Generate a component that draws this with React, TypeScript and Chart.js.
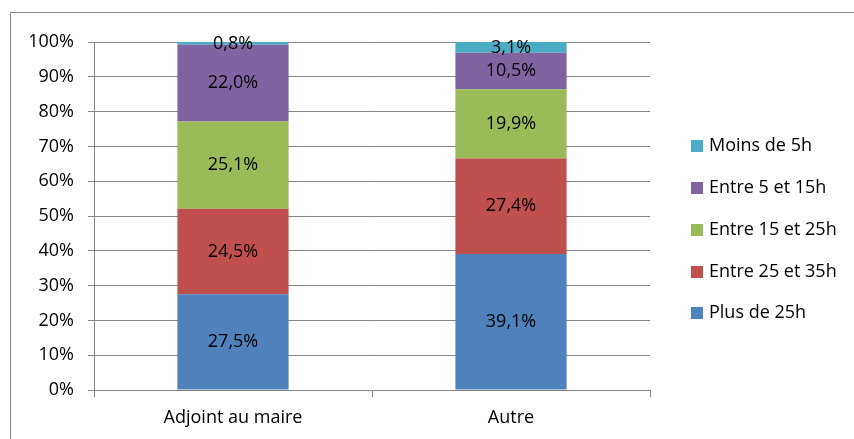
import React, { useEffect, useRef } from "react";
import { Chart, registerables } from "chart.js";

Chart.register(...registerables);

const categories = ["Adjoint au maire", "Autre"];
const seriesNames = ["Plus de 25h", "Entre 25 et 35h", "Entre 15 et 25h", "Entre 5 et 15h", "Moins de 5h"];
const plusDe25h = [27.5, 39.1];
const entre25et35h = [24.5, 27.4];
const entre15et25h = [25.1, 19.9];
const entre5et15h = [22.0, 10.5];
const moinsDe5h = [0.8, 3.1];
const yTicks = [0, 10, 20, 30, 40, 50, 60, 70, 80, 90, 100];
const colors = ["#4F81BD", "#C0504D", "#9BBB59", "#8064A2", "#4BACC6"];

const FONT = "'Open Sans', sans-serif";
const FS = 18;

export default function App() {
  const ref = useRef<HTMLCanvasElement>(null);
  useEffect(() => {
    document.body.style.margin = "0";
    const raw = [plusDe25h, entre25et35h, entre15et25h, entre5et15h, moinsDe5h];
    const totals = categories.map((_, i) => raw.reduce((s, arr) => s + arr[i], 0));
    const fmt = (v: number) => v.toFixed(1).replace(".", ",") + "%";

    const labelsPlugin = {
      id: "labels",
      afterDatasetsDraw(chart: any) {
        const ctx = chart.ctx;
        ctx.save();
        ctx.font = `${FS}px ${FONT}`;
        ctx.fillStyle = "#000";
        ctx.textAlign = "center";
        ctx.textBaseline = "middle";
        chart.data.datasets.forEach((ds: any, di: number) => {
          const meta = chart.getDatasetMeta(di);
          meta.data.forEach((bar: any, i: number) => {
            const y = (bar.y + bar.base) / 2;
            ctx.fillText(fmt(raw[di][i]), bar.x, y);
          });
        });
        ctx.restore();
      },
      afterDraw(chart: any) {
        const ctx = chart.ctx;
        ctx.save();
        // outer frame
        ctx.strokeStyle = "#868686";
        ctx.lineWidth = 1;
        ctx.beginPath();
        ctx.moveTo(10.5, 460);
        ctx.lineTo(10.5, 12.5);
        ctx.lineTo(900, 12.5);
        ctx.stroke();
        // legend
        ctx.font = `${FS}px ${FONT}`;
        ctx.textBaseline = "middle";
        ctx.textAlign = "left";
        const ys = [146, 188, 230, 272, 313];
        for (let k = 0; k < 5; k++) {
          const di = 4 - k;
          ctx.fillStyle = colors[di];
          ctx.fillRect(691, ys[k] - 6, 12, 12);
          ctx.fillStyle = "#000";
          ctx.fillText(seriesNames[di], 709, ys[k]);
        }
        ctx.restore();
      },
    };

    const chart = new Chart(ref.current!, {
      type: "bar",
      data: {
        labels: categories,
        datasets: raw.map((arr, di) => ({
          label: seriesNames[di],
          data: arr.map((v, i) => (v / totals[i]) * 100),
          backgroundColor: colors[di],
          borderWidth: 0,
          categoryPercentage: 0.4,
          barPercentage: 1,
        })),
      },
      options: {
        animation: false,
        responsive: false,
        events: [],
        layout: { padding: { left: 0, right: 204, top: 42, bottom: 0 } },
        plugins: { legend: { display: false }, tooltip: { enabled: false } },
        scales: {
          x: {
            stacked: true,
            grid: { offset: true, drawOnChartArea: false, color: "#868686", tickLength: 7 },
            border: { color: "#868686" },
            ticks: { color: "#000", font: { family: FONT, size: FS }, padding: 10 },
            afterFit: (s: any) => { s.height = 49; },
          },
          y: {
            stacked: true,
            min: 0,
            max: 100,
            grid: { color: "#868686", tickLength: 6 },
            border: { color: "#868686" },
            afterBuildTicks: (s: any) => { s.ticks = yTicks.map((v) => ({ value: v })); },
            ticks: {
              color: "#000",
              font: { family: FONT, size: FS },
              padding: 14,
              callback: (v: any) => v + "%",
            },
            afterFit: (s: any) => { s.width = 94; },
          },
        },
      },
      plugins: [labelsPlugin],
    });
    return () => chart.destroy();
  }, []);
  return (
    <div style={{ position: "fixed", left: 0, top: 0, width: 854, height: 439, background: "#fff" }}>
      <canvas ref={ref} width={854} height={439} />
    </div>
  );
}
